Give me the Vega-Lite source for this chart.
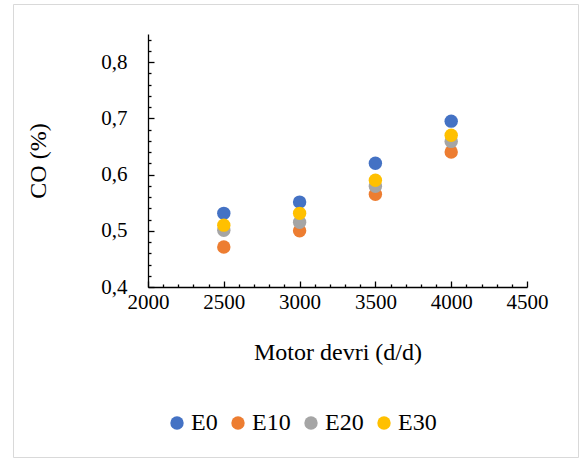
{
  "$schema": "https://vega.github.io/schema/vega-lite/v6.json",
  "width": 565,
  "height": 453,
  "autosize": {"type": "none"},
  "padding": {"left": 13, "top": 4, "right": 1, "bottom": 1},
  "background": "white",
  "data": {
    "values": [
      {"rpm": 2500, "fuel": "E0", "co": 0.531},
      {"rpm": 3000, "fuel": "E0", "co": 0.551},
      {"rpm": 3500, "fuel": "E0", "co": 0.620},
      {"rpm": 4000, "fuel": "E0", "co": 0.695},
      {"rpm": 2500, "fuel": "E10", "co": 0.471},
      {"rpm": 3000, "fuel": "E10", "co": 0.500},
      {"rpm": 3500, "fuel": "E10", "co": 0.565},
      {"rpm": 4000, "fuel": "E10", "co": 0.640},
      {"rpm": 2500, "fuel": "E20", "co": 0.501},
      {"rpm": 3000, "fuel": "E20", "co": 0.515},
      {"rpm": 3500, "fuel": "E20", "co": 0.579},
      {"rpm": 4000, "fuel": "E20", "co": 0.659},
      {"rpm": 2500, "fuel": "E30", "co": 0.510},
      {"rpm": 3000, "fuel": "E30", "co": 0.531},
      {"rpm": 3500, "fuel": "E30", "co": 0.590},
      {"rpm": 4000, "fuel": "E30", "co": 0.670}
    ]
  },
  "mark": {"type": "point", "filled": true, "shape": "circle", "size": 180, "opacity": 1},
  "encoding": {
    "x": {
      "field": "rpm",
      "type": "quantitative",
      "scale": {"domain": [2000, 4500], "range": [135, 514], "nice": false, "zero": false},
      "axis": {
        "title": "Motor devri (d/d)",
        "values": [2000,2100,2200,2300,2400,2500,2600,2700,2800,2900,3000,3100,3200,3300,3400,3500,3600,3700,3800,3900,4000,4100,4200,4300,4400,4500],
        "labelExpr": "datum.value % 500 === 0 ? format(datum.value, 'd') : ''",
        "tickSize": {"condition": {"test": "datum.value % 500 === 0", "value": -6}, "value": -3},
        "offset": -170,
        "labelPadding": 10,
        "labelFlush": false,
        "titleY": 65,
        "titleBaseline": "middle",
        "labelOverlap": false
      }
    },
    "y": {
      "field": "co",
      "type": "quantitative",
      "scale": {"domain": [0.4, 0.85], "range": [283, 30], "nice": false, "zero": false},
      "axis": {
        "title": "CO (%)",
        "values": [0.4,0.42,0.44,0.46,0.48,0.5,0.52,0.54,0.56,0.58,0.6,0.62,0.64,0.66,0.68,0.7,0.72,0.74,0.76,0.78,0.8,0.82,0.84],
        "labelExpr": "abs(datum.value*10 - round(datum.value*10)) < 0.000001 ? replace(format(datum.value, '.1f'), '.', ',') : ''",
        "tickSize": {"condition": {"test": "abs(datum.value*10 - round(datum.value*10)) < 0.000001", "value": -6}, "value": -3},
        "offset": -135,
        "labelPadding": 27,
        "labelFlush": false,
        "titleX": -110,
        "titleBaseline": "middle",
        "labelOverlap": false
      }
    },
    "color": {
      "field": "fuel",
      "type": "nominal",
      "scale": {"domain": ["E0", "E10", "E20", "E30"], "range": ["#4472C4", "#ED7D31", "#A5A5A5", "#FFC000"]},
      "legend": {
        "title": null,
        "orient": "none",
        "direction": "horizontal",
        "legendX": 152,
        "legendY": 407,
        "symbolType": "circle",
        "symbolSize": 180,
        "symbolOpacity": 1,
        "symbolStrokeWidth": 0,
        "labelFontSize": 24,
        "labelOffset": 2,
        "columnPadding": 8,
        "labelFont": "Liberation Serif",
        "labelColor": "#000000"
      }
    }
  },
  "config": {
    "view": {"stroke": "#d9d9d9", "strokeWidth": 1},
    "axis": {
      "grid": false,
      "domainColor": "#000000",
      "domainWidth": 1.3,
      "tickColor": "#000000",
      "tickWidth": 1.3,
      "labelFont": "Liberation Serif",
      "labelFontSize": 21,
      "labelColor": "#000000",
      "titleFont": "Liberation Serif",
      "titleFontSize": 24,
      "titleFontWeight": "normal",
      "titleColor": "#000000"
    }
  }
}
